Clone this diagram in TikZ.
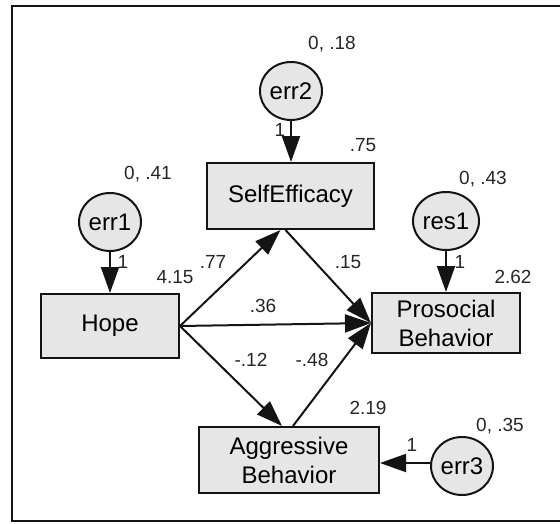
\documentclass[tikz,border=0pt]{standalone}
\usepackage{fontspec}
\setmainfont{Liberation Sans}
\usetikzlibrary{arrows.meta,shapes.geometric}
\definecolor{boxgray}{RGB}{230,230,230}
\definecolor{ink}{RGB}{20,20,20}
\begin{document}
\begin{tikzpicture}[x=1pt,y=-1pt,
  var/.style={rectangle, draw=ink, line width=2pt, fill=boxgray, inner sep=0pt, align=center, font=\fontsize{24}{29}\selectfont},
  lat/.style={ellipse, draw=ink, line width=2pt, fill=boxgray, inner sep=0pt, minimum width=62pt, minimum height=58pt, font=\fontsize{24}{29}\selectfont},
  pth/.style={draw=ink, line width=2pt, -{Triangle[length=26pt,width=18pt]}},
  lbl/.style={inner sep=0pt, font=\fontsize{19}{19}\selectfont, text=black!85, text height=13.6pt, text depth=0pt}]
\useasboundingbox (0,0) rectangle (560,523);
\draw[line width=2pt, draw=ink] (561,6) -- (12,6) -- (12,521) -- (561,521);
% observed variables
\node[var, minimum width=138pt, minimum height=64pt] (hope) at (110,326) {Hope};
\node[var, minimum width=167pt, minimum height=66pt] (se) at (290.5,196) {SelfEfficacy};
\node[var, minimum width=148pt, minimum height=60pt] (pro) at (446,323) {Prosocial\\Behavior};
\node[var, minimum width=180pt, minimum height=66pt] (agg) at (289,460) {Aggressive\\Behavior};
% error terms
\node[lat] (e1) at (110,222) {err1};
\node[lat] (e2) at (291,91) {err2};
\node[lat] (r1) at (446,221) {res1};
\node[lat] (e3) at (462,466) {err3};
% error arrows
\draw[pth] (e1.south) -- (e1.south |- hope.north);
\draw[pth] (e2.south) -- (e2.south |- se.north);
\draw[pth] (r1.south) -- (r1.south |- pro.north);
\draw[pth] ([yshift=3pt]e3.west) -- ([yshift=3pt]e3.west -| agg.east);
% structural paths
\draw[pth] (hope.east) -- ([xshift=-10pt]se.south);
\draw[pth] (hope.east) -- (pro.west);
\draw[pth] (hope.east) -- ([xshift=-7pt]agg.north);
\draw[pth] ([xshift=-5pt]se.south) -- (pro.west);
\draw[pth] ([xshift=4pt]agg.north) -- (pro.west);
% labels
\node[lbl] (v1) at (148,173) {0, .41};
\node[lbl] (v2) at (332,43) {0, .18};
\node[lbl] (v3) at (483,178) {0, .43};
\node[lbl] (v4) at (500,425) {0, .35};
\node[lbl] (i1) at (363,145) {.75};
\node[lbl] (i2) at (513,277) {2.62};
\node[lbl] (i3) at (368,408) {2.19};
\node[lbl] (i4) at (175,277) {4.15};
\node[lbl] (p1) at (213,262) {.77};
\node[lbl] (p2) at (263,306) {.36};
\node[lbl] (p3) at (348,262) {.15};
\node[lbl] (p4) at (251,360) {-.12};
\node[lbl] (p5) at (312,360) {-.48};
\node[lbl] (o1) at (123,262) {1};
\node[lbl] (o2) at (280,130) {1};
\node[lbl] (o3) at (460,262) {1};
\node[lbl] (o4) at (412,445) {1};
\end{tikzpicture}
\end{document}
